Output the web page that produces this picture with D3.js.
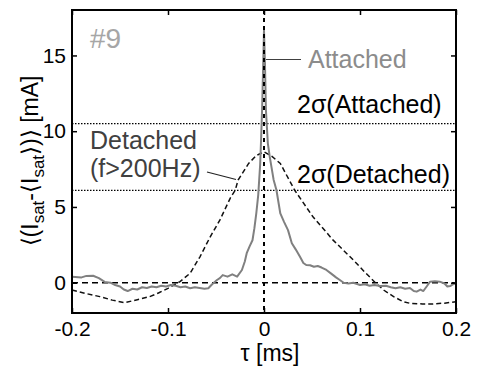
<!DOCTYPE html>
<html><head><meta charset="utf-8">
<script src="https://cdn.jsdelivr.net/npm/d3@7"></script>
<style>
body{margin:0;background:#fff;}
svg{display:block;font-family:"Liberation Sans",Arial,Helvetica,sans-serif;}
</style></head>
<body><svg id="c" width="479" height="367"></svg>
<script>
// ---- data ----
const xTicks = [-0.2, -0.1, 0, 0.1, 0.2];
const xTickLabels = ["-0.2", "-0.1", "0", "0.1", "0.2"];
const yTicks = [0, 5, 10, 15];
const yTickLabels = ["0", "5", "10", "15"];

const attachedTau = [-0.200,-0.190,-0.185,-0.178,-0.172,-0.166,-0.160,-0.155,-0.150,-0.146,-0.142,-0.137,-0.132,-0.127,-0.122,-0.117,-0.112,-0.107,-0.102,-0.097,-0.092,-0.087,-0.082,-0.077,-0.072,-0.067,-0.062,-0.058,-0.054,-0.049,-0.046,-0.043,-0.038,-0.033,-0.028,-0.023,-0.020,-0.018,-0.015,-0.012,-0.010,-0.008,-0.006,-0.004,-0.003,-0.002,-0.001,0.000,0.001,0.002,0.004,0.006,0.010,0.013,0.017,0.021,0.025,0.029,0.033,0.0375,0.041,0.044,0.048,0.052,0.056,0.060,0.065,0.070,0.075,0.079,0.083,0.088,0.093,0.097,0.100,0.105,0.110,0.115,0.121,0.127,0.132,0.137,0.142,0.147,0.152,0.156,0.159,0.163,0.166,0.170,0.173,0.178,0.183,0.188,0.191,0.194,0.197,0.200];
const attachedVal = [0.40,0.35,0.45,0.46,0.30,0.05,0.00,-0.15,-0.25,-0.45,-0.55,-0.40,-0.45,-0.30,-0.35,-0.25,-0.30,-0.20,-0.25,-0.15,-0.20,-0.30,-0.25,-0.37,-0.30,-0.35,-0.40,-0.37,-0.10,0.18,0.30,0.50,0.40,0.55,0.40,0.84,1.40,1.95,2.40,2.80,3.60,4.60,5.80,7.80,9.50,11.40,14.00,16.66,14.50,11.40,9.20,8.30,6.80,6.10,4.57,4.00,3.47,2.60,2.20,1.71,1.30,1.17,1.15,1.05,1.10,1.00,0.84,0.60,0.35,0.18,0.00,-0.05,0.00,-0.09,-0.15,-0.10,-0.20,-0.15,-0.22,-0.20,-0.30,-0.37,-0.30,-0.40,-0.35,-0.55,-0.59,-0.45,-0.55,-0.20,0.07,0.10,0.07,-0.05,-0.25,-0.22,-0.10,-0.04];

const detachedTau = [-0.200,-0.185,-0.171,-0.158,-0.145,-0.132,-0.119,-0.110,-0.100,-0.0875,-0.077,-0.0667,-0.056,-0.046,-0.035,-0.030,-0.027,-0.016,-0.008,0.000,0.008,0.017,0.032,0.051,0.072,0.093,0.105,0.116,0.125,0.135,0.145,0.152,0.165,0.176,0.188,0.200];
const detachedVal = [-0.48,-0.72,-0.92,-1.15,-1.32,-1.12,-0.92,-0.68,-0.37,0.07,0.62,1.71,3.03,4.13,5.60,6.10,6.77,7.87,8.40,8.64,8.35,7.87,6.10,4.35,2.81,1.50,0.70,0.00,-0.50,-0.92,-1.25,-1.36,-1.40,-1.40,-1.35,-1.25];

const sigmaLevels = [10.5, 6.1];
const sigmaLabels = ["2σ(Attached)", "2σ(Detached)"];

// ---- layout ----
const svg = d3.select("#c");
const L = 72, R = 456, T = 10, B = 313;
const x = d3.scaleLinear().domain([-0.2, 0.2]).range([L, R]);
const y = d3.scaleLinear().domain([-2, 18]).range([B, T]);
const font = '"Liberation Sans",Arial,Helvetica,sans-serif';

const gPlot = svg.append("g");
const line = d3.line().x(d => x(d[0])).y(d => y(d[1]));

// reference lines
gPlot.append("line").attr("x1", L).attr("x2", R).attr("y1", y(0)).attr("y2", y(0))
  .attr("stroke", "#000").attr("stroke-width", 1.5).attr("stroke-dasharray", "6,4");
sigmaLevels.forEach(v => {
  gPlot.append("line").attr("x1", L).attr("x2", R).attr("y1", y(v)).attr("y2", y(v))
    .attr("stroke", "#000").attr("stroke-width", 1.3).attr("stroke-dasharray", "1.5,1.5");
});

// curves
gPlot.append("path").datum(detachedTau.map((t, i) => [t, detachedVal[i]]))
  .attr("d", line).attr("fill", "none").attr("stroke", "#111").attr("stroke-width", 1.5)
  .attr("stroke-dasharray", "5,3");
gPlot.append("path").datum(attachedTau.map((t, i) => [t, attachedVal[i]]))
  .attr("d", line).attr("fill", "none").attr("stroke", "#808080").attr("stroke-width", 2)
  .attr("stroke-linejoin", "round");

gPlot.append("line").attr("x1", x(0)).attr("x2", x(0)).attr("y1", T).attr("y2", B)
  .attr("stroke", "#000").attr("stroke-width", 2).attr("stroke-dasharray", "4,4");

// axes
const ax = svg.append("g").attr("font-family", font);
const xb = ax.append("g").attr("transform", `translate(0,${B})`)
  .call(d3.axisBottom(x).tickValues(xTicks).tickSizeInner(-5).tickSizeOuter(0).tickPadding(8)
    .tickFormat((d, i) => xTickLabels[i]));
const xt = ax.append("g").attr("transform", `translate(0,${T})`)
  .call(d3.axisTop(x).tickValues(xTicks).tickSizeInner(-5).tickSizeOuter(0).tickFormat(""));
const yl = ax.append("g").attr("transform", `translate(${L},0)`)
  .call(d3.axisLeft(y).tickValues(yTicks).tickSizeInner(-5).tickSizeOuter(0).tickPadding(6)
    .tickFormat((d, i) => yTickLabels[i]));
const yr = ax.append("g").attr("transform", `translate(${R},0)`)
  .call(d3.axisRight(y).tickValues(yTicks).tickSizeInner(-5).tickSizeOuter(0).tickFormat(""));
[xb, xt, yl, yr].forEach(g => {
  g.select(".domain").remove();
  g.selectAll(".tick line").attr("stroke", "#000").attr("stroke-width", 1.5);
  g.selectAll("text").attr("font-size", 21).attr("fill", "#000").attr("font-family", font);
});
xb.selectAll("text").attr("dy", "0.71em");
svg.append("rect").attr("x", L).attr("y", T).attr("width", R - L).attr("height", B - T)
  .attr("fill", "none").attr("stroke", "#000").attr("stroke-width", 2);

// axis titles
svg.append("text").attr("x", 270).attr("y", 361).attr("text-anchor", "middle")
  .attr("font-family", font).attr("font-size", 23).text("τ [ms]");

const yt = svg.append("text").attr("transform", "translate(38,161) rotate(-90)")
  .attr("text-anchor", "middle").attr("font-family", font).attr("font-size", 23);
yt.append("tspan").text("⟨(I");
yt.append("tspan").attr("font-size", 17).attr("dy", 6).text("sat");
yt.append("tspan").attr("dy", -6).text("-⟨I");
yt.append("tspan").attr("font-size", 17).attr("dy", 6).text("sat");
yt.append("tspan").attr("dy", -6).text("⟩)⟩ [mA]");

// annotations
svg.append("text").attr("x", 90).attr("y", 48).attr("font-family", font).attr("font-size", 28)
  .attr("fill", "#a6a6a6").text("#9");
svg.append("line").attr("x1", 266).attr("x2", 301).attr("y1", 59.5).attr("y2", 59.5)
  .attr("stroke", "#404040").attr("stroke-width", 1.2);
svg.append("text").attr("x", 308).attr("y", 68).attr("font-family", font).attr("font-size", 25)
  .attr("fill", "#8c8c8c").text("Attached");
svg.append("text").attr("x", 90).attr("y", 149).attr("font-family", font).attr("font-size", 25)
  .attr("fill", "#404040").text("Detached");
svg.append("text").attr("x", 90).attr("y", 177).attr("font-family", font).attr("font-size", 25)
  .attr("fill", "#404040").text("(f>200Hz)");
svg.append("line").attr("x1", 207).attr("x2", 236).attr("y1", 172).attr("y2", 179.5)
  .attr("stroke", "#222").attr("stroke-width", 1.2);
const sigY = [113, 183];
sigmaLabels.forEach((s, i) => {
  svg.append("text").attr("x", 297).attr("y", sigY[i]).attr("font-family", font)
    .attr("font-size", 25).attr("fill", "#000").text(s);
});
</script></body></html>
